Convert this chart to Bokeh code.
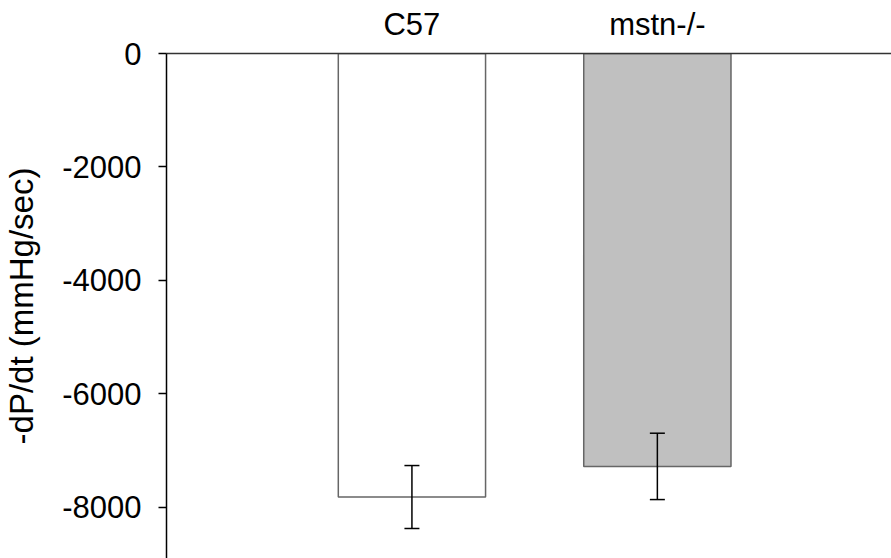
from bokeh.plotting import figure
from bokeh.models import ColumnDataSource, Range1d, FixedTicker, Whisker, TeeHead
from bokeh.embed import file_html
from bokeh.resources import INLINE

# Group means and standard errors of -dP/dt (mmHg/sec)
groups = ["C57", "mstn-/-"]
means = [-7820, -7280]
errors = [555, 585]
fills = ["#FFFFFF", "#C0C0C0"]
y_ticks = [0, -2000, -4000, -6000, -8000]

xpos = [i + 1 for i in range(len(groups))]
src = ColumnDataSource(dict(
    x=xpos,
    mean=means,
    upper=[m + e for m, e in zip(means, errors)],
    lower=[m - e for m, e in zip(means, errors)],
    fill=fills,
))

FONT = "Liberation Sans"

p = figure(width=891, height=558, output_backend="svg", toolbar_location=None,
           x_axis_location="above",
           x_range=Range1d(0, 2.954), y_range=Range1d(-8904, 0),
           min_border_left=166, min_border_top=53, min_border_right=0, min_border_bottom=0)
p.outline_line_color = None
p.grid.visible = False
p.background_fill_color = "white"
p.border_fill_color = "white"

# Bars hang down from zero
p.vbar(x="x", top=0, bottom="mean", width=0.6, fill_color="fill",
       line_color="#666666", line_width=1.5, source=src)

# Error bars, drawn on top of the bars
w = Whisker(base="x", upper="upper", lower="lower", source=src, level="overlay",
            line_color="black", line_width=1.5,
            upper_head=TeeHead(size=15, line_color="black", line_width=1.5),
            lower_head=TeeHead(size=15, line_color="black", line_width=1.5))
p.add_layout(w)

# Top category axis
xa = p.xaxis[0]
xa.ticker = FixedTicker(ticks=xpos)
xa.major_label_overrides = {x: g for x, g in zip(xpos, groups)}
xa.major_tick_in = 0
xa.major_tick_out = 0
xa.minor_tick_line_color = None
xa.axis_line_color = "#333333"
xa.axis_line_width = 1.5
xa.major_label_text_font = FONT
xa.major_label_text_font_size = "31px"
xa.major_label_text_color = "black"
xa.major_label_standoff = 12

# Left value axis, plain hyphen for negatives
ya = p.yaxis[0]
ya.ticker = FixedTicker(ticks=y_ticks)
ya.major_label_overrides = {t: str(t) for t in y_ticks}
ya.major_tick_in = 0
ya.major_tick_out = 8
ya.minor_tick_line_color = None
ya.axis_line_color = "black"
ya.axis_line_width = 1.5
ya.major_tick_line_width = 1.5
ya.major_label_text_font = FONT
ya.major_label_text_font_size = "31px"
ya.major_label_text_color = "black"
ya.major_label_standoff = 17
ya.axis_label = "-dP/dt (mmHg/sec)"
ya.axis_label_text_font = FONT
ya.axis_label_text_font_size = "33px"
ya.axis_label_text_font_style = "normal"
ya.axis_label_text_color = "black"
ya.axis_label_standoff = 19

open("out.html", "w").write(file_html(p, INLINE))
